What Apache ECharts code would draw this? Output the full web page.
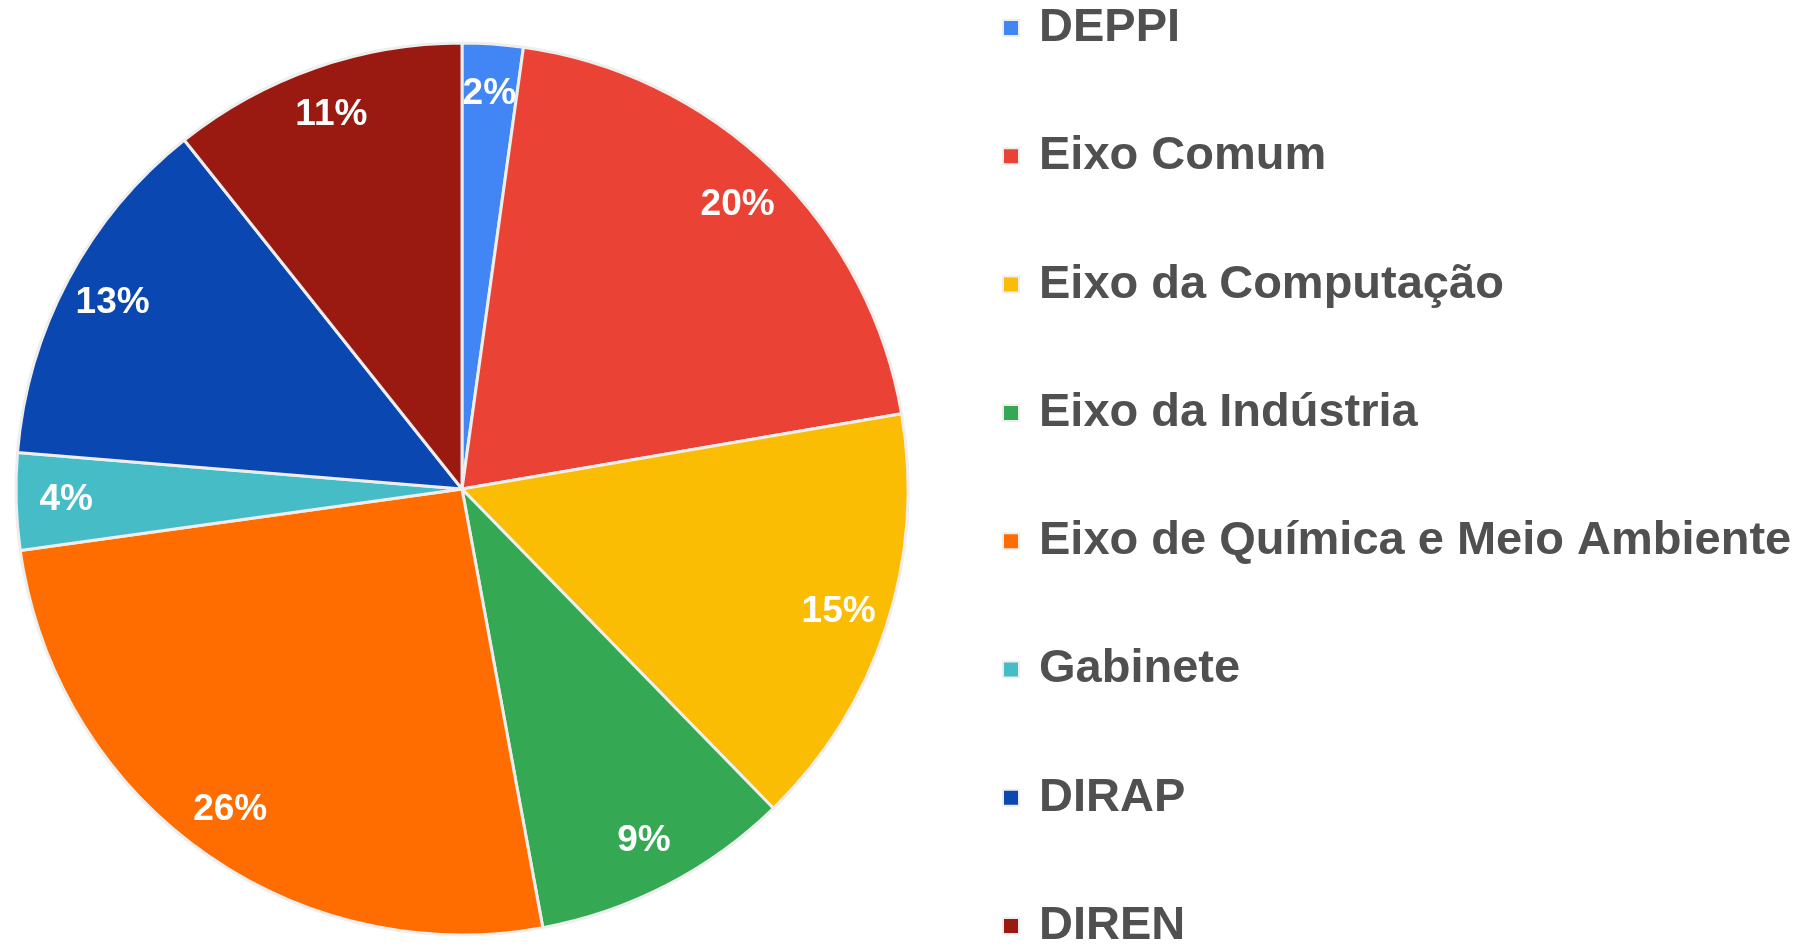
<!DOCTYPE html>
<html>
<head>
<meta charset="utf-8">
<title>Distribuição por setor</title>
<script src="https://cdn.jsdelivr.net/npm/echarts@6/dist/echarts.min.js"></script>
<style>
  html, body { margin: 0; padding: 0; background: #fff; }
  #chart { width: 1815px; height: 946px; }
</style>
</head>
<body>
<div id="chart"></div>
<script>
// setores e participação (%)
const categories = ['DEPPI', 'Eixo Comum', 'Eixo da Computação', 'Eixo da Indústria',
  'Eixo de Química e Meio Ambiente', 'Gabinete', 'DIRAP', 'DIREN'];
const shares = [2.2, 20.1, 15.4, 9.4, 25.7, 3.5, 13.0, 10.7];
const colors = ['#4285f4', '#ea4335', '#fbbc04', '#34a853', '#ff6d01', '#46bdc6', '#0b47b0', '#9a1a12'];

const font = '"Liberation Sans", Arial, sans-serif';
const pieData = categories.map((name, i) => ({ name, value: shares[i] }));

const chart = echarts.init(document.getElementById('chart'));

chart.setOption({
  animation: false,
  color: colors,
  legend: {
    orient: 'vertical',
    left: 1002,
    top: 4.5,
    height: 1100,
    padding: 0,
    itemWidth: 16,
    itemHeight: 16,
    itemGap: 81.3,
    icon: 'rect',
    data: categories,
    textStyle: {
      fontFamily: font,
      fontSize: 47,
      lineHeight: 46,
      fontWeight: 'bold',
      color: '#505050',
      padding: [0, 0, 0, 15]
    }
  },
  series: [
    {
      name: 'Setores',
      type: 'pie',
      center: [462, 489],
      radius: [0, 446],
      startAngle: 90,
      clockwise: true,
      avoidLabelOverlap: false,
      label: { show: false },
      labelLine: { show: false },
      itemStyle: {
        borderColor: '#eeeeee',
        borderWidth: 3
      },
      emphasis: { disabled: true },
      data: pieData
    },
    {
      // camada só para posicionar os rótulos perto da borda
      name: 'Rótulos',
      type: 'pie',
      silent: true,
      center: [462, 489],
      radius: [384, 402],
      startAngle: 90,
      clockwise: true,
      percentPrecision: 0,
      avoidLabelOverlap: false,
      itemStyle: { color: 'rgba(0,0,0,0)' },
      labelLine: { show: false },
      label: {
        show: true,
        position: 'inside',
        formatter: '{d}%',
        fontFamily: font,
        fontSize: 37,
        fontWeight: 'bold',
        color: '#ffffff'
      },
      data: pieData
    }
  ]
});
</script>
</body>
</html>
